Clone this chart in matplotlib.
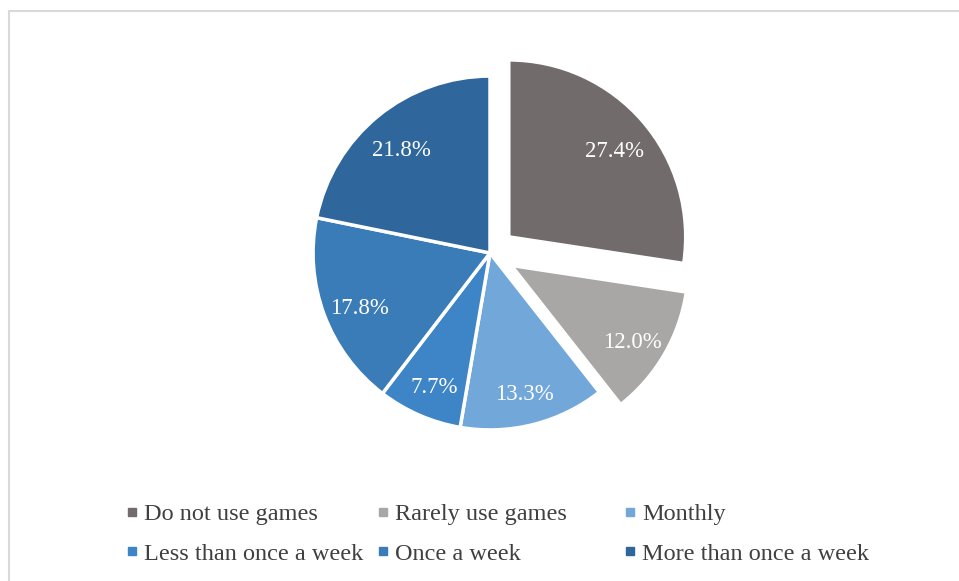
import matplotlib.pyplot as plt
from matplotlib.lines import Line2D
from matplotlib.patches import Rectangle

# Survey: how often games are used
categories = ["Do not use games", "Rarely use games", "Monthly",
              "Less than once a week", "Once a week", "More than once a week"]
shares = [27.4, 12.0, 13.3, 7.7, 17.8, 21.8]
colors = ["#716b6b", "#a9a6a6", "#72a7da", "#3d85c6", "#3a7cb8", "#2f679c"]
explode = [0.14, 0.14, 0, 0, 0, 0]

plt.rcParams['font.family'] = ['Liberation Serif', 'DejaVu Serif']

fig = plt.figure(figsize=(9.59, 5.81), dpi=100)

# light grey frame around the chart area
fig.patches.append(Rectangle((9 / 959, -0.05), 1.0, 1 - 11 / 581 + 0.05,
                             transform=fig.transFigure, fill=False,
                             edgecolor="#d9d9d9", linewidth=1.5))

# square axes centred on the pie (centre ~ (490, 253) px, radius ~177 px)
ax = fig.add_axes([260 / 959, 98 / 581, 460 / 959, 460 / 581])
wedges, texts, autotexts = ax.pie(
    shares, colors=colors, explode=explode, startangle=90, counterclock=False,
    autopct=lambda p: f"{p:.1f}%", pctdistance=0.79,
    wedgeprops=dict(edgecolor="white", linewidth=2.5),
    textprops=dict(color="white", fontsize=16.5))
# nudge labels slightly down, like the original
for t in autotexts:
    x, y = t.get_position()
    t.set_position((x, y - 0.035))
ax.set_xlim(-1.3, 1.3)
ax.set_ylim(-1.3, 1.3)
ax.set_aspect("equal")
ax.axis("off")

# legend: three columns, two rows, square markers
handles = [Line2D([], [], marker="s", linestyle="none", markersize=5.5,
                  markerfacecolor=c, markeredgecolor=c) for c in colors]
col_x = [125 / 959, 376 / 959, 623 / 959]
for i, x in enumerate(col_x):
    idx = [i, i + 3]
    leg = fig.legend([handles[j] for j in idx], [categories[j] for j in idx],
                     loc="upper left", bbox_to_anchor=(x, 1 - 503 / 581),
                     frameon=False, fontsize=17.5, handlelength=0.6,
                     handletextpad=0.2, labelspacing=0.72, borderpad=0,
                     borderaxespad=0, labelcolor="#404040")

fig.savefig("out.png", dpi=100)
